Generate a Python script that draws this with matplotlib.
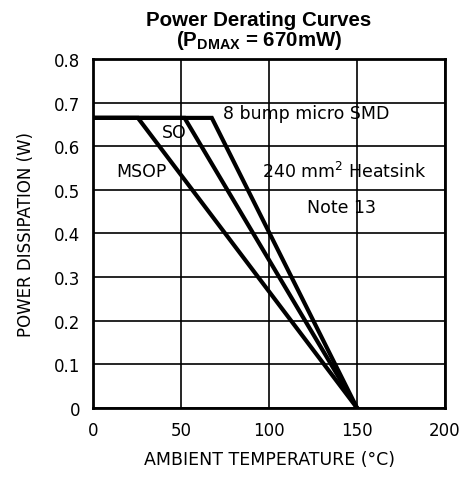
import matplotlib

matplotlib.use("Agg")
import matplotlib.pyplot as plt

plt.rcParams["font.family"] = ["DejaVu Sans"]
plt.rcParams["mathtext.fontset"] = "custom"
plt.rcParams["mathtext.bf"] = "Liberation Sans:bold"
plt.rcParams["mathtext.rm"] = "Liberation Sans"

# derating curves: (temperature, power) corner points
p_dmax = 0.665
t_max = 150
msop_t = [0, 25.5, t_max]
msop_p = [p_dmax, p_dmax, 0]
so_t = [0, 52, t_max]
so_p = [p_dmax, p_dmax, 0]
smd_t = [0, 67.5, t_max]
smd_p = [p_dmax, p_dmax, 0]

x_ticks = [0, 50, 100, 150, 200]
y_ticks = [0, 0.1, 0.2, 0.3, 0.4, 0.5, 0.6, 0.7, 0.8]
y_labels = ["0", "0.1", "0.2", "0.3", "0.4", "0.5", "0.6", "0.7", "0.8"]

fig = plt.figure(figsize=(4.66, 4.85), dpi=100)
ax = fig.add_axes([0.1996, 0.1567, 0.7554, 0.7196])

for t, p in ((msop_t, msop_p), (so_t, so_p), (smd_t, smd_p)):
    ax.plot(t, p, color="black", linewidth=3, solid_joinstyle="miter", zorder=3)

ax.set_xlim(0, 200)
ax.set_ylim(0, 0.8)
ax.set_xticks(x_ticks)
ax.set_yticks(y_ticks)
ax.set_yticklabels(y_labels)
ax.grid(True, color="black", linewidth=1.2)
ax.tick_params(length=0, labelsize=12, pad=9)
for spine in ax.spines.values():
    spine.set_linewidth(2)

fs = 12.5
ax.text(74, 0.676, "8 bump micro SMD", fontsize=fs, va="center", zorder=4)
ax.text(39, 0.633, "SO", fontsize=fs, va="center", zorder=4)
ax.text(13, 0.544, "MSOP", fontsize=fs, va="center", zorder=4)
ax.text(96, 0.544, r"240 mm$\mathregular{^2}$ Heatsink", fontsize=fs, va="center", zorder=4)
ax.text(121.5, 0.461, "Note 13", fontsize=fs, va="center", zorder=4)

ax.set_xlabel("AMBIENT TEMPERATURE (°C)", fontsize=12.5, labelpad=8)
ax.set_ylabel("POWER DISSIPATION (W)", fontsize=12, labelpad=14)

title = "Power Derating Curves\n" + r"($\mathbf{P_{DMAX}}$ = 670mW)"
fig.text(0.556, 0.978, title, ha="center", va="top", multialignment="center",
         linespacing=0.95, fontsize=14.8, fontweight="bold", family="Liberation Sans")

fig.savefig("out.png", dpi=100)
plt.close(fig)
